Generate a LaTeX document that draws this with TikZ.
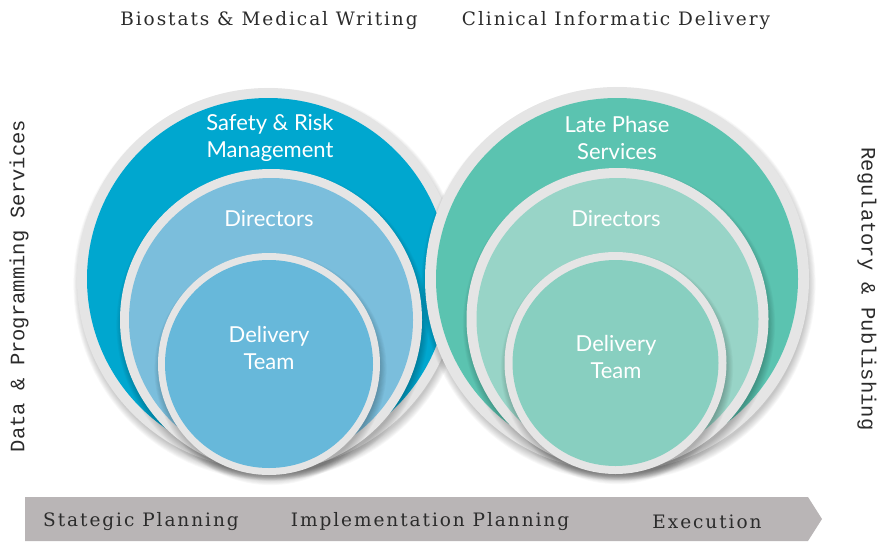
\documentclass[tikz,border=0pt]{standalone}
\usepackage{fontspec}
\setmainfont{Lato}
\newfontfamily\slabfont[LetterSpace=10.5]{DejaVu Serif}
\newfontfamily\sidefont{Liberation Mono}
\definecolor{blueA}{HTML}{00A7CF}
\definecolor{blueB}{HTML}{7BBEDC}
\definecolor{blueC}{HTML}{67B8DA}
\definecolor{greenA}{HTML}{5BC3B0}
\definecolor{greenB}{HTML}{98D4C7}
\definecolor{greenC}{HTML}{88CFC0}
\definecolor{ringgray}{HTML}{E5E5E5}
\definecolor{bargray}{HTML}{B9B5B6}
\definecolor{txtdark}{HTML}{2B2B2B}
\newcommand\ringdisc[5]{%
  \foreach \i in {1,...,9}{\fill[black,opacity=0.028] (#1+1.5,#2+5) circle[radius=#4pt+\i*0.9pt-3pt];}
  \fill[ringgray] (#1,#2) circle[radius=#4pt];
  \fill[#5] (#1,#2) circle[radius=#3pt];
}
\begin{document}
\begin{tikzpicture}[x=1pt,y=-1pt,
  inlabel/.style={text=white,font=\fontsize{22}{27}\selectfont,align=center,inner sep=0pt},
  toplabel/.style={text=txtdark,font=\slabfont\fontsize{18.5}{20}\selectfont,inner sep=0pt},
  sidelabel/.style={text=txtdark,font=\sidefont\fontsize{20.5}{22}\selectfont,inner sep=0pt}]
\useasboundingbox (0,0) rectangle (877,541);
\clip (0,0) rectangle (877,541);
% left group
\ringdisc{268}{279}{181}{191}{blueA}
\ringdisc{271}{320}{142}{151}{blueB}
\ringdisc{269}{364}{104}{111}{blueC}
% right group
\ringdisc{617}{279}{181}{192}{greenA}
\ringdisc{617.5}{319}{141}{151}{greenB}
\ringdisc{615.5}{363}{103}{111}{greenC}
% labels in circles
\node[inlabel] (srm) at (270,138) {Safety \& Risk\\Management};
\node[inlabel] (dirL) at (269,219) {Directors};
\node[inlabel] (dtL) at (269,348) {Delivery\\Team};
\node[inlabel] (lps) at (617,138) {Late Phase\\Services};
\node[inlabel] (dirR) at (616,219) {Directors};
\node[inlabel] (dtR) at (616,357) {Delivery\\Team};
% top labels
\node[toplabel] (bmw) at (269,21) {Biostats \& Medical Writing};
\node[toplabel] (cid) at (616,21) {Clinical Informatic Delivery};
% side labels
\node[sidelabel,rotate=90] (dps) at (19,286) {Data \& Programming Services};
\node[sidelabel,rotate=-90] (rp) at (867,289) {Regulatory \& Publishing};
% bottom bar
\fill[bargray] (25,497) -- (808,497) -- (822,519) -- (808,541) -- (25,541) -- cycle;
\node[toplabel] (sp) at (141,522) {Stategic Planning};
\node[toplabel] (ip) at (430,522) {Implementation Planning};
\node[toplabel] (ex) at (707,522) {Execution};
\end{tikzpicture}
\end{document}
